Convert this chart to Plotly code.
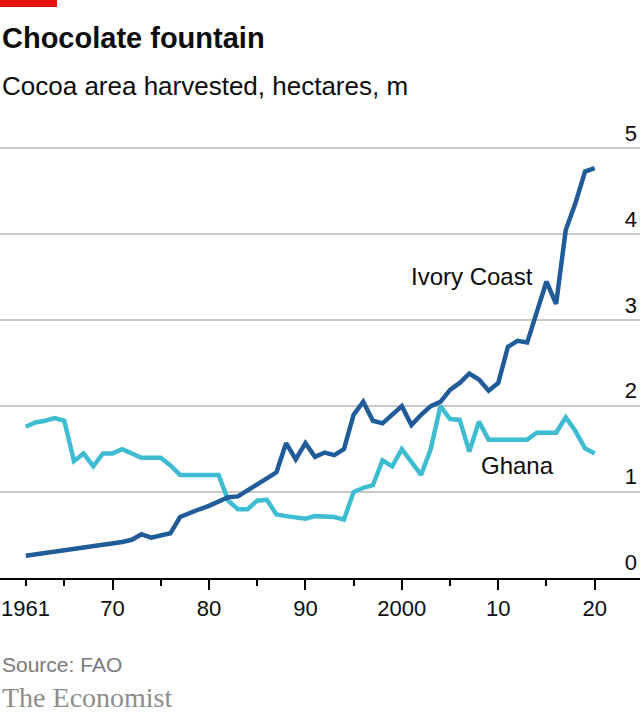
import plotly.graph_objects as go

years = list(range(1961, 2021))

ivory_coast = [0.26, 0.275, 0.29, 0.305, 0.32, 0.335, 0.35, 0.365, 0.38, 0.40,
               0.42, 0.445, 0.51, 0.47, 0.49, 0.52, 0.71, 0.76, 0.80, 0.84,
               0.89, 0.94, 0.95, 1.02, 1.09, 1.16, 1.23, 1.57, 1.38, 1.57,
               1.41, 1.46, 1.43, 1.50, 1.90, 2.05, 1.83, 1.80, 1.90, 2.00,
               1.78, 1.90, 2.00, 2.05, 2.19, 2.27, 2.38, 2.31, 2.18, 2.27,
               2.69, 2.76, 2.74, 3.08, 3.45, 3.19, 4.05, 4.36, 4.73, 4.77]

ghana = [1.76, 1.81, 1.83, 1.86, 1.83, 1.36, 1.45, 1.30, 1.45, 1.45,
         1.50, 1.45, 1.40, 1.40, 1.40, 1.31, 1.20, 1.20, 1.20, 1.20,
         1.20, 0.90, 0.80, 0.80, 0.90, 0.91, 0.74, 0.72, 0.70, 0.69,
         0.72, 0.72, 0.71, 0.68, 1.00, 1.05, 1.08, 1.37, 1.30, 1.50,
         1.36, 1.20, 1.50, 2.00, 1.85, 1.84, 1.47, 1.82, 1.61, 1.61,
         1.61, 1.61, 1.61, 1.69, 1.69, 1.69, 1.87, 1.71, 1.51, 1.45]

x_major = [1970, 1980, 1990, 2000, 2010, 2020]
x_major_text = ["70", "80", "90", "2000", "10", "20"]
x_minor = [1961, 1965, 1975, 1985, 1995, 2005, 2015]
y_ticks = [0, 1, 2, 3, 4, 5]

DARK = "#1f5c99"
LIGHT = "#3ebcd2"
SANS = "Liberation Sans, Arial, sans-serif"
INK = "#0d0d0d"

# plot area runs from 120px to 578px down the page
TOP, BOT = 120, 578.3


def ypaper(py):
    return (BOT - py) / (BOT - TOP)


fig = go.Figure()
fig.add_trace(go.Scatter(x=years, y=ghana, mode="lines",
                         line=dict(color=LIGHT, width=4.5), hoverinfo="skip"))
fig.add_trace(go.Scatter(x=years, y=ivory_coast, mode="lines",
                         line=dict(color=DARK, width=4.5), hoverinfo="skip"))

fig.update_xaxes(range=[1958.33, 2024.7], tickvals=x_major, ticktext=x_major_text,
                 ticks="outside", ticklen=10, tickwidth=1.5, tickcolor="#000",
                 minor=dict(tickvals=x_minor, ticks="outside", ticklen=6,
                            tickwidth=1.5, tickcolor="#000"),
                 showline=True, linecolor="#000", linewidth=1.5,
                 showgrid=False, zeroline=False,
                 tickfont=dict(family=SANS, size=22, color=INK))
fig.update_yaxes(range=[0, 5.33], tickvals=y_ticks, side="right",
                 ticklabelposition="inside top", ticks="",
                 showgrid=True, gridcolor="#c8c8c8", gridwidth=1.5,
                 zeroline=False, showline=False,
                 tickfont=dict(family=SANS, size=22, color=INK))

# 1961 sits on a short tick, so it gets its own label
fig.add_annotation(x=years[0], y=ypaper(594), xref="x", yref="paper",
                   text="1961", showarrow=False, xanchor="center", yanchor="top",
                   font=dict(family=SANS, size=22, color=INK))
fig.add_annotation(x=2007.3, y=3.51, text="Ivory Coast", showarrow=False,
                   font=dict(family=SANS, size=24, color=INK))
fig.add_annotation(x=2012.0, y=1.31, text="Ghana", showarrow=False,
                   font=dict(family=SANS, size=24, color=INK))

fig.add_annotation(x=0, y=ypaper(38), xref="paper", yref="paper", xanchor="left",
                   yanchor="middle", showarrow=False, text="<b>Chocolate fountain</b>",
                   font=dict(family=SANS, size=29, color=INK))
fig.add_annotation(x=0, y=ypaper(86), xref="paper", yref="paper", xanchor="left",
                   yanchor="middle", showarrow=False,
                   text="Cocoa area harvested, hectares, m",
                   font=dict(family=SANS, size=26, color=INK))
fig.add_annotation(x=0, y=ypaper(665), xref="paper", yref="paper", xanchor="left",
                   yanchor="middle", showarrow=False, text="Source: FAO",
                   font=dict(family=SANS, size=21, color="#7a7a7a"))
fig.add_annotation(x=0, y=ypaper(698), xref="paper", yref="paper", xanchor="left",
                   yanchor="middle", showarrow=False, text="The Economist",
                   font=dict(family="Liberation Serif, serif", size=28, color="#8c8c8c"))

# red tag in the corner
fig.add_shape(type="rect", xref="paper", yref="paper", x0=0, x1=57 / 640,
              y0=ypaper(7), y1=ypaper(0), fillcolor="#e3120b", line_width=0)

fig.update_layout(width=640, height=725, showlegend=False,
                  margin=dict(l=0, r=0, t=TOP, b=725 - BOT),
                  plot_bgcolor="white", paper_bgcolor="white")

fig.write_html("out.html", config={"displayModeBar": False},
               post_script="document.body.style.margin='0';")
